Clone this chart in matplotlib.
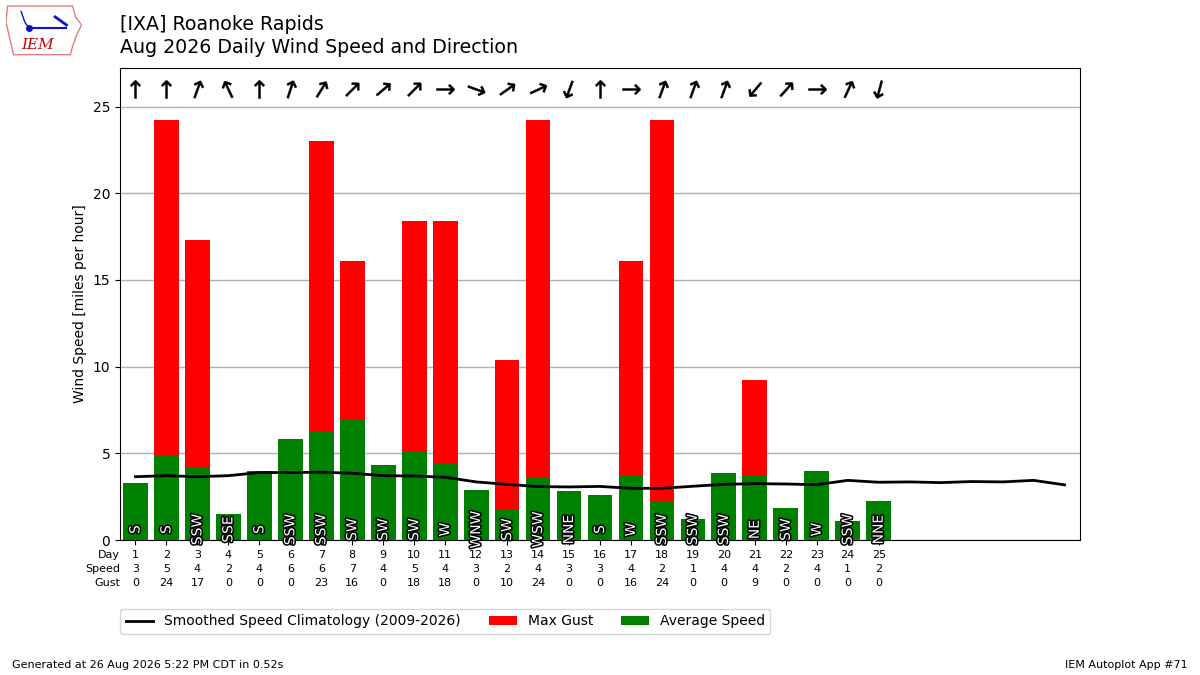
import matplotlib
matplotlib.use("Agg")
import matplotlib.pyplot as plt
import matplotlib.patheffects as pe
from matplotlib.patches import Polygon
from matplotlib.markers import MarkerStyle
from matplotlib.transforms import Affine2D
import numpy as np

# ---- data ----
days = list(range(1, 26))
avg_speed = [3.3, 4.9, 4.2, 1.5, 4.0, 5.8, 6.2, 6.9, 4.3, 5.1, 4.4, 2.9, 1.8,
             3.6, 2.8, 2.6, 3.7, 2.2, 1.2, 3.85, 3.7, 1.85, 4.0, 1.1, 2.25]
max_gust = [0, 24.2, 17.3, 0, 0, 0, 23.0, 16.1, 0, 18.4, 18.4, 0, 10.4,
            24.2, 0, 0, 16.1, 24.2, 0, 0, 9.2, 0, 0, 0, 0]
speed_lbl = [3, 5, 4, 2, 4, 6, 6, 7, 4, 5, 4, 3, 2, 4, 3, 3, 4, 2, 1, 4, 4, 2, 4, 1, 2]
gust_lbl = [0, 24, 17, 0, 0, 0, 23, 16, 0, 18, 18, 0, 10, 24, 0, 0, 16, 24, 0, 0, 9, 0, 0, 0, 0]
dir_deg = [180, 180, 200, 155, 180, 198, 212, 225, 230, 225, 270, 290, 235,
           245, 20, 180, 270, 200, 200, 200, 40, 222, 270, 205, 15]
dir_txt = ["S", "S", "SSW", "SSE", "S", "SSW", "SSW", "SW", "SW", "SW", "W", "WNW", "SW",
           "WSW", "NNE", "S", "W", "SSW", "SSW", "SSW", "NE", "SW", "W", "SSW", "NNE"]
clim_days = list(range(1, 32))
clim_speed = [3.65, 3.71, 3.65, 3.71, 3.89, 3.89, 3.91, 3.85, 3.71, 3.69, 3.62, 3.35,
              3.21, 3.08, 3.06, 3.09, 2.98, 2.98, 3.10, 3.21, 3.25, 3.23, 3.19, 3.44,
              3.33, 3.35, 3.31, 3.37, 3.35, 3.44, 3.18]

fig = plt.figure(figsize=(12, 6.75), dpi=100)
ax = fig.add_axes([0.1, 0.2, 0.8, 0.7])

ax.bar(days, max_gust, width=0.8, color="r", label="Max Gust", zorder=2)
ax.bar(days, avg_speed, width=0.8, color="g", label="Average Speed", zorder=3)
ax.plot(clim_days, clim_speed, color="k", lw=2,
        label="Smoothed Speed Climatology (2009-2026)", zorder=4)

for d, deg, txt in zip(days, dir_deg, dir_txt):
    mk = MarkerStyle("$\u2191$", transform=Affine2D().rotate_deg(180 - deg))
    ax.plot([d], [26.0], marker=mk, ms=13, mew=0.3, color="k", ls="none", zorder=5)
    t = ax.text(d, 0.6, txt, rotation=90, ha="center", va="center", color="white",
                fontsize=10, zorder=6)
    t.set_path_effects([pe.withStroke(linewidth=2.2, foreground="k")])

ax.set_xlim(0.5, 31.5)
ax.set_ylim(0, 27.25)
ax.set_xticks(days)
ax.set_xticklabels([])
ax.set_yticks([0, 5, 10, 15, 20, 25])
ax.yaxis.grid(True, color="#b0b0b0", lw=1, zorder=0)
ax.set_axisbelow(True)
ax.set_ylabel("Wind Speed [miles per hour]")

trans = ax.get_xaxis_transform()
rows = [("Day", days, -0.032), ("Speed", speed_lbl, -0.061), ("Gust", gust_lbl, -0.091)]
for name, vals, yy in rows:
    ax.text(0.5, yy, name, transform=trans, ha="right", va="center", fontsize=8)
    for d, v in zip(days, vals):
        ax.text(d, yy, str(v), transform=trans, ha="center", va="center", fontsize=8)

h, l = ax.get_legend_handles_labels()
ax.legend(h, l, ncol=3, loc="upper left", borderaxespad=0,
          bbox_to_anchor=(0.1, 0.098), bbox_transform=fig.transFigure, fontsize=10)

fig.text(0.1, 0.9644, "[IXA] Roanoke Rapids", ha="left", va="center", fontsize=13.7)
fig.text(0.1, 0.9289, "Aug 2026 Daily Wind Speed and Direction", ha="left",
         va="center", fontsize=13.7)
fig.text(0.01, 0.0148, "Generated at 26 Aug 2026 5:22 PM CDT in 0.52s", fontsize=8,
         ha="left", va="center")
fig.text(0.99, 0.0148, "IEM Autoplot App #71", fontsize=8, ha="right", va="center")

# simple logo
lax = fig.add_axes([0.005, 0.915, 0.063, 0.08])
lax.set_xlim(0, 1)
lax.set_ylim(0, 1)
lax.axis("off")
iowa = [(0.02, 0.95), (0.88, 0.95), (0.92, 0.75), (1.0, 0.6), (0.93, 0.4), (0.88, 0.2),
        (0.85, 0.05), (0.1, 0.05), (0.05, 0.35), (0.0, 0.65)]
lax.add_patch(Polygon(iowa, closed=True, fill=False, ec="#e08080", lw=1))
lax.text(0.42, 0.22, "IEM", color="#cc0000", fontsize=11, style="italic",
         family="DejaVu Serif", ha="center", va="center")
lax.plot([0.3, 0.8], [0.55, 0.55], color="#1010c0", lw=1.5)
lax.plot([0.3], [0.55], "o", color="#1010c0", ms=4)
lax.plot([0.2, 0.25, 0.3], [0.85, 0.65, 0.55], color="#1010c0", lw=1)
lax.plot([0.65, 0.8], [0.75, 0.6], color="#1010c0", lw=2)

fig.savefig("out.png", dpi=100)
